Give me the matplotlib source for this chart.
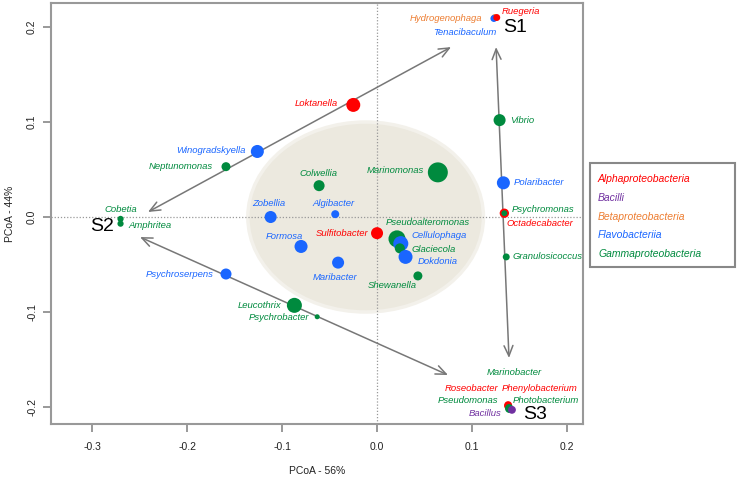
import matplotlib
matplotlib.use("Agg")
import matplotlib.pyplot as plt
from matplotlib.patches import Ellipse, Rectangle

plt.rcParams['font.family'] = ['Liberation Sans', 'DejaVu Sans']

# ---------------- data ----------------
classes = ["Alphaproteobacteria", "Bacilli", "Betaproteobacteria",
           "Flavobacteriia", "Gammaproteobacteria"]
class_colors = {"Alphaproteobacteria": "#FF0000", "Bacilli": "#7030A0",
                "Betaproteobacteria": "#ED7D31", "Flavobacteriia": "#1A66FF",
                "Gammaproteobacteria": "#008A3E"}

genera = ["Hydrogenophaga", "Tenacibaculum", "Ruegeria", "Loktanella",
          "Winogradskyella", "Neptunomonas", "Colwellia", "Marinomonas",
          "Zobellia", "Algibacter", "Cobetia", "Amphritea", "Psychroserpens",
          "Leucothrix", "Psychrobacter", "Sulfitobacter", "Formosa", "Maribacter",
          "Pseudoalteromonas", "Cellulophaga", "Glaciecola", "Dokdonia",
          "Shewanella", "Vibrio", "Polaribacter", "Octadecabacter",
          "Psychromonas", "Granulosicoccus", "Roseobacter", "Phenylobacterium",
          "Marinobacter", "Pseudomonas", "Photobacterium", "Bacillus"]
genus_class = ["Betaproteobacteria", "Flavobacteriia", "Alphaproteobacteria",
               "Alphaproteobacteria", "Flavobacteriia", "Gammaproteobacteria",
               "Gammaproteobacteria", "Gammaproteobacteria", "Flavobacteriia",
               "Flavobacteriia", "Gammaproteobacteria", "Gammaproteobacteria",
               "Flavobacteriia", "Gammaproteobacteria", "Gammaproteobacteria",
               "Alphaproteobacteria", "Flavobacteriia", "Flavobacteriia",
               "Gammaproteobacteria", "Flavobacteriia", "Gammaproteobacteria",
               "Flavobacteriia", "Gammaproteobacteria", "Gammaproteobacteria",
               "Flavobacteriia", "Alphaproteobacteria", "Gammaproteobacteria",
               "Gammaproteobacteria", "Alphaproteobacteria", "Alphaproteobacteria",
               "Gammaproteobacteria", "Gammaproteobacteria", "Gammaproteobacteria",
               "Bacilli"]
pc1 = [0.124, 0.123, 0.126, -0.025, -0.126, -0.159, -0.061, 0.064,
       -0.112, -0.044, -0.270, -0.270, -0.159, -0.087, -0.063, 0.000,
       -0.080, -0.041, 0.021, 0.025, 0.024, 0.030, 0.043, 0.129,
       0.133, 0.134, 0.134, 0.136, 0.138, 0.138, 0.139, 0.139, 0.140, 0.142]
pc2 = [0.210, 0.209, 0.210, 0.118, 0.069, 0.053, 0.033, 0.047,
       0.000, 0.003, -0.002, -0.007, -0.060, -0.093, -0.105, -0.017,
       -0.031, -0.048, -0.023, -0.028, -0.033, -0.042, -0.062, 0.102,
       0.036, 0.004, 0.004, -0.042, -0.198, -0.199, -0.201, -0.202, -0.202, -0.203]
# relative abundance (marker area)
abund = [25, 25, 25, 101, 88, 42, 63, 207, 75, 33, 20, 20, 63, 117, 13, 75,
         88, 75, 150, 117, 52, 101, 42, 75, 88, 45, 18, 25, 32, 32, 32, 32, 32, 32]

# label offsets (pixels) and alignment
lab_off = [(-13, -1, 'right'), (3, -14, 'right'), (5, 6, 'left'), (-15, 1, 'right'),
           (-12, 1, 'right'), (-13, 0, 'right'), (-1, 12, 'center'), (-14, 2, 'right'),
           (-2, 14, 'center'), (-2, 11, 'center'), (17, 9, 'right'), (8, -2, 'left'),
           (-12, 0, 'right'), (-13, 0, 'right'), (-8, -1, 'right'), (-9, 0, 'right'),
           (-17, 10, 'center'), (-3, -15, 'center'), (-11, 16, 'left'), (11, 8, 'left'),
           (12, -1, 'left'), (12, -5, 'left'), (-26, -10, 'center'), (11, 0, 'left'),
           (10, 0, 'left'), (2, -10, 'left'), (7, 4, 'left'), (6, 0, 'left'),
           (-63, 17, 'left'), (-6, 18, 'left'), (-22, 35, 'left'), (-71, 8, 'left'),
           (3, 8, 'left'), (-10, -4, 'right')]

samples = ["S1", "S2", "S3"]
sample_xy = [(0.1326, 0.199), (-0.2768, -0.0095), (0.1537, -0.2084)]
sample_ha = ['left', 'right', 'left']

# gradient arrows between samples
arrows = [((-0.2411, 0.0053), (0.0779, 0.1789)),
          ((-0.2495, -0.0211), (0.0747, -0.1663)),
          ((0.1253, 0.1789), (0.1389, -0.1484))]

xticks = [-0.3, -0.2, -0.1, 0.0, 0.1, 0.2]
yticks = [-0.2, -0.1, 0.0, 0.1, 0.2]

# ---------------- figure ----------------
fig = plt.figure(figsize=(7.37, 4.80), dpi=100)
ax = fig.add_axes([51/737, 1-424/480, (583-51)/737, (424-3)/480])
ax.set_xlim(-0.3432, 0.2168)
ax.set_ylim(-0.2179, 0.2253)

ax.add_patch(Ellipse((-0.012, 0.0), 0.248, 0.2, facecolor="#ECE9DF",
                     edgecolor="#F3F1EB", lw=2.5, zorder=0))
ax.axhline(0, color="#999999", ls=(0, (1, 1.5)), lw=0.9, zorder=1)
ax.axvline(0, color="#999999", ls=(0, (1, 1.5)), lw=0.9, zorder=1)

for (x0, y0), (x1, y1) in arrows:
    ax.annotate("", xy=(x1, y1), xytext=(x0, y0),
                arrowprops=dict(arrowstyle="<->,head_length=0.75,head_width=0.32",
                                color="#777777", lw=1.1, shrinkA=0, shrinkB=0),
                zorder=2)

for g, c, x, y, s, (dx, dy, ha) in zip(genera, genus_class, pc1, pc2, abund, lab_off):
    col = class_colors[c]
    ax.scatter([x], [y], s=s, color=col, edgecolors='none', zorder=3)
    ax.annotate(g, (x, y), xytext=(dx, dy), textcoords='offset pixels',
                ha=ha, va='center', fontsize=6.8, style='italic', color=col,
                zorder=4)

for s, (x, y), ha in zip(samples, sample_xy, sample_ha):
    ax.text(x, y, s, fontsize=14, ha=ha, va='center', color='black', zorder=4)

ax.set_xticks(xticks)
ax.set_xticklabels([f"{t:.1f}" for t in xticks])
ax.set_yticks(yticks)
ax.set_yticklabels([f"{t:.1f}" for t in yticks], rotation=90, va='center')
ax.tick_params(axis='both', direction='out', length=6, width=1.2,
               color="#888888", labelsize=7.5, labelcolor="#222222")
ax.tick_params(axis='x', pad=7)
ax.tick_params(axis='y', pad=4)
for sp in ax.spines.values():
    sp.set_color("#999999")
    sp.set_linewidth(1.5)
ax.set_xlabel("PCoA - 56%", fontsize=7.5, color="#222222", labelpad=10)
ax.set_ylabel("PCoA - 44%", fontsize=7.5, color="#222222", labelpad=9)

# legend box
fig.patches.append(Rectangle((590/737, 1-267/480), 145/737, 104/480,
                             transform=fig.transFigure, facecolor='white',
                             edgecolor="#888888", lw=1.5))
for i, c in enumerate(classes):
    fig.text(598/737, 1-(179 + 18.8*i)/480, c, fontsize=7.5, style='italic',
             color=class_colors[c], ha='left', va='center')

fig.savefig("out.png", dpi=100)
